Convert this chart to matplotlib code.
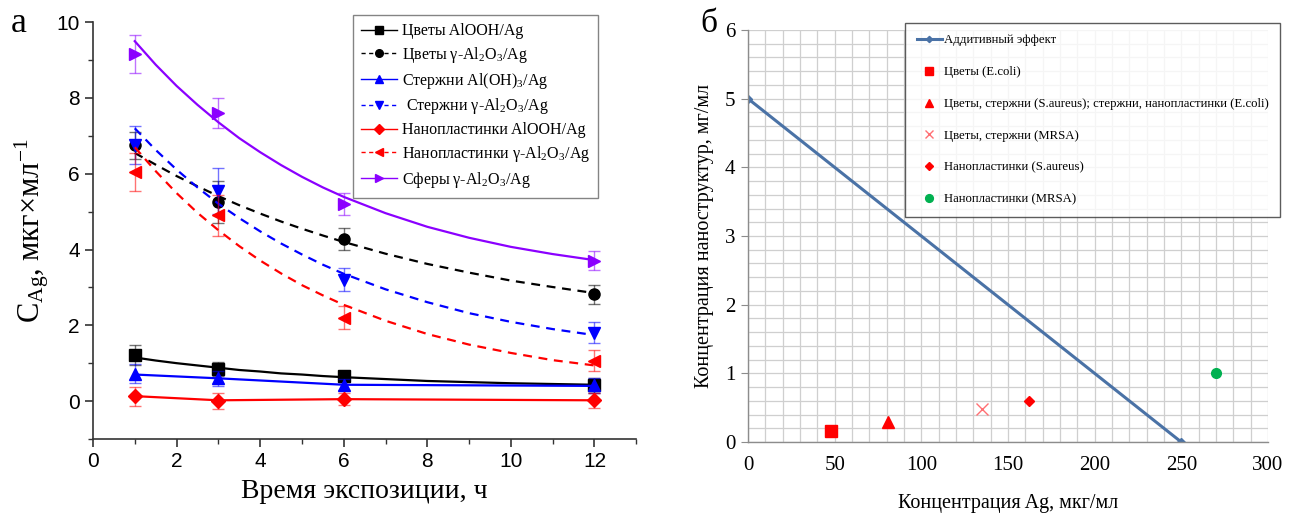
import matplotlib
matplotlib.use("Agg")
import matplotlib.pyplot as plt
from matplotlib.lines import Line2D
from matplotlib.ticker import MultipleLocator

plt.rcParams.update({
    "font.family": ["Liberation Serif", "DejaVu Serif"],
    "mathtext.fontset": "custom",
    "mathtext.rm": "Liberation Serif",
    "mathtext.it": "Liberation Serif:italic",
    "axes.unicode_minus": False,
})

# ---------------- panel a: data ----------------
hours = [1, 3, 6, 12]
fit_x = [1, 1.5, 2, 2.5, 3, 3.5, 4, 4.5, 5, 5.5, 6, 7, 8, 9, 10, 11, 12]

labels_a = [
    "Цветы AlOOH/Ag",
    r"Цветы γ-Al$_\mathregular{2}$O$_\mathregular{3}$/Ag",
    r"Стержни Al(OH)$_\mathregular{3}$/Ag",
    r" Стержни γ-Al$_\mathregular{2}$O$_\mathregular{3}$/Ag",
    "Нанопластинки AlOOH/Ag",
    r"Нанопластинки γ-Al$_\mathregular{2}$O$_\mathregular{3}$/Ag",
    r"Сферы γ-Al$_\mathregular{2}$O$_\mathregular{3}$/Ag",
]
colors_a = ["black", "black", "#0000ff", "#0000ff", "#ff0000", "#ff0000", "#8b00ff"]
markers_a = ["s", "o", "^", "v", "D", "<", ">"]
styles_a = ["-", "--", "-", "--", "-", "--", "-"]

flowers_alooh = [1.22, 0.85, 0.65, 0.42]
flowers_gal = [6.75, 5.25, 4.28, 2.82]
rods_aloh = [0.72, 0.60, 0.43, 0.42]
rods_gal = [6.75, 5.55, 3.20, 1.80]
plates_alooh = [0.13, 0.00, 0.05, 0.02]
plates_gal = [6.05, 4.90, 2.20, 1.07]
spheres_gal = [9.15, 7.60, 5.20, 3.70]

err_flowers_alooh = [0.27, 0.18, 0.15, 0.20]
err_flowers_gal = [0.35, 0.55, 0.30, 0.25]
err_rods_aloh = [0.25, 0.20, 0.15, 0.20]
err_rods_gal = [0.50, 0.60, 0.30, 0.28]
err_plates_alooh = [0.25, 0.20, 0.15, 0.20]
err_plates_gal = [0.50, 0.55, 0.30, 0.27]
err_spheres_gal = [0.50, 0.40, 0.28, 0.25]

# fitted curves
fit_flowers_alooh = [1.15, 1.07, 1.00, 0.94, 0.88, 0.82, 0.78, 0.73, 0.70, 0.66, 0.63,
                     0.58, 0.53, 0.50, 0.47, 0.45, 0.43]
fit_flowers_gal = [6.55, 6.24, 5.94, 5.67, 5.41, 5.17, 4.95, 4.74, 4.55, 4.37, 4.20,
                   3.89, 3.62, 3.39, 3.18, 3.01, 2.85]
fit_rods_gal = [7.20, 6.63, 6.11, 5.64, 5.21, 4.83, 4.48, 4.16, 3.87, 3.60, 3.36,
                2.95, 2.61, 2.32, 2.09, 1.90, 1.74]
fit_plates_gal = [6.70, 6.07, 5.49, 4.97, 4.51, 4.09, 3.71, 3.37, 3.06, 2.79, 2.54,
                  2.12, 1.77, 1.49, 1.27, 1.08, 0.94]
fit_spheres_gal = [9.50, 8.88, 8.32, 7.82, 7.36, 6.94, 6.57, 6.23, 5.92, 5.64, 5.39,
                   4.96, 4.60, 4.31, 4.07, 3.88, 3.72]
fit_rods_aloh = [0.70, 0.60, 0.43, 0.40]
fit_plates_alooh = [0.13, 0.02, 0.05, 0.02]

series_a = [flowers_alooh, flowers_gal, rods_aloh, rods_gal, plates_alooh, plates_gal, spheres_gal]
errors_a = [err_flowers_alooh, err_flowers_gal, err_rods_aloh, err_rods_gal,
            err_plates_alooh, err_plates_gal, err_spheres_gal]
fits_a = [(fit_x, fit_flowers_alooh), (fit_x, fit_flowers_gal), (hours, fit_rods_aloh),
          (fit_x, fit_rods_gal), (hours, fit_plates_alooh), (fit_x, fit_plates_gal),
          (fit_x, fit_spheres_gal)]

# ---------------- panel б: data ----------------
additive_x = [0, 250]
additive_y = [5, 0]
pts_b = [
    ("Цветы (E.coli)", 48, 0.16, "s", "#ff0000", 8),
    ("Цветы, стержни (S.aureus); стержни, нанопластинки (E.coli)", 81, 0.29, "^", "#ff0000", 8),
    ("Цветы, стержни (MRSA)", 135, 0.48, "x", "#ff6f73", 8),
    ("Нанопластинки (S.aureus)", 162, 0.60, "D", "#ff0000", 5.5),
    ("Нанопластинки (MRSA)", 270, 1.00, "o", "#00b050", 7),
]

fig = plt.figure(figsize=(12.95, 5.17), dpi=100)

# ================= panel a =================
ax = fig.add_axes([0.0718, 0.151, 0.4195, 0.806])
for y, e, (fx, fy), c, m, ls in zip(series_a, errors_a, fits_a, colors_a, markers_a, styles_a):
    ax.plot(fx, fy, ls, color=c, lw=1.6, dashes=(4, 3) if ls == "--" else (None, None))
    ax.errorbar(hours, y, yerr=e, fmt="none", ecolor=c, elinewidth=1.0, capsize=4,
                capthick=1.0, alpha=0.55)
    ax.plot(hours, y, m, color=c, ms=8 if m != "D" else 7, ls="none")

ax.set_xlim(0, 13)
ax.set_ylim(-1, 10)
ax.xaxis.set_major_locator(MultipleLocator(2))
ax.xaxis.set_minor_locator(MultipleLocator(1))
ax.yaxis.set_major_locator(MultipleLocator(2))
ax.yaxis.set_minor_locator(MultipleLocator(1))
ax.set_yticks([0, 2, 4, 6, 8, 10])
for s in ["top", "right"]:
    ax.spines[s].set_visible(False)
for s in ["left", "bottom"]:
    ax.spines[s].set_linewidth(1.2)
    ax.spines[s].set_color("#333333")
ax.tick_params(which="major", length=6, width=1.2, color="#333333",
               labelsize=15, direction="out")
ax.tick_params(which="minor", length=3.5, width=1.0, color="#333333", direction="out")
for lab in ax.get_xticklabels() + ax.get_yticklabels():
    lab.set_family(["Liberation Sans", "DejaVu Sans"])
ax.set_xlabel("Время экспозиции, ч", fontsize=20, labelpad=6)
ax.set_ylabel(r"C$_\mathregular{Ag}$, мкг×мл$^\mathregular{-1}$", fontsize=22, labelpad=4)

handles_a = [Line2D([], [], color=c, ls=ls, marker=m, ms=5.5, lw=1.0,
                    dashes=(3, 2.5) if ls == "--" else (None, None))
             for c, m, ls in zip(colors_a, markers_a, styles_a)]
leg = ax.legend(handles_a, labels_a, loc="upper left", bbox_to_anchor=(0.478, 1.017),
                fontsize=11.5, frameon=True, fancybox=False, edgecolor="#666666",
                handlelength=2.3, labelspacing=0.36, borderpad=0.5, handletextpad=0.3,
                borderaxespad=0)
leg.get_frame().set_linewidth(1.0)
fig.text(0.008, 0.955, "а", fontsize=26, va="center")

# ================= panel б =================
bx = fig.add_axes([0.5776, 0.145, 0.4015, 0.797])
bx.set_xlim(0, 300)
bx.set_ylim(0, 6)
bx.xaxis.set_major_locator(MultipleLocator(50))
bx.xaxis.set_minor_locator(MultipleLocator(10))
bx.yaxis.set_major_locator(MultipleLocator(1))
bx.yaxis.set_minor_locator(MultipleLocator(0.2))
bx.grid(which="both", color="#cfcfcf", lw=0.9)
bx.set_axisbelow(True)
for s in ["top", "right"]:
    bx.spines[s].set_visible(False)
for s in ["left", "bottom"]:
    bx.spines[s].set_color("#8c8c8c")
    bx.spines[s].set_linewidth(1.0)
bx.tick_params(axis="y", which="major", length=5, color="#8c8c8c", labelsize=15, pad=4)
bx.tick_params(axis="x", which="major", length=0, labelsize=15, pad=10)
bx.tick_params(which="minor", length=0)

bx.plot(additive_x, additive_y, "-", color="#4a72a6", lw=2.2, marker="D", ms=4,
        label="Аддитивный эффект")
for lab, x, y, m, c, ms in pts_b:
    bx.plot([x], [y], m, color=c, ms=ms, ls="none", label=lab, mew=1.0)

bx.set_xlabel("Концентрация Ag, мкг/мл", fontsize=14.5, labelpad=14)
bx.set_ylabel("Концентрация наноструктур, мг/мл", fontsize=14.5, labelpad=8)
leg2 = bx.legend(loc="upper left", bbox_to_anchor=(0.302, 1.017), fontsize=9.2,
                 frameon=True, fancybox=False, edgecolor="#333333", labelspacing=1.55,
                 handlelength=2.0, borderpad=0.9, handletextpad=0.15, markerscale=0.8,
                 borderaxespad=0)
leg2.get_frame().set_linewidth(1.0)
fig.text(0.541, 0.955, "б", fontsize=24, va="center")

fig.savefig("out.png", dpi=100)
